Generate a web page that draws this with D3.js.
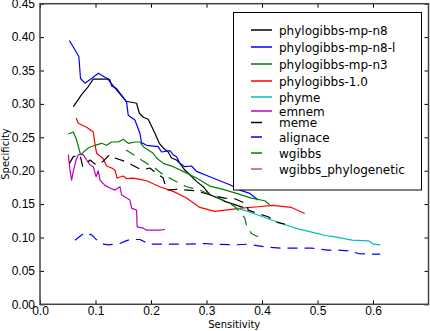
<!DOCTYPE html>
<html>
<head>
<meta charset="utf-8">
<script src="https://cdn.jsdelivr.net/npm/d3@7"></script>
<style>
  body { margin: 0; background: #fff; }
  svg { display: block; font-family: "DejaVu Sans", sans-serif; }
  .tick-label { font-size: 12px; fill: #000; }
  .axis-title { font-size: 10px; fill: #000; }
  .legend-text { font-size: 12px; fill: #000; }
</style>
</head>
<body>
<div class="chart"></div>
<script>
const WIDTH = 430;
const HEIGHT = 331;
const PLOT_LEFT = 40;
const PLOT_RIGHT = 428.5;
const PLOT_TOP = 3.7;
const PLOT_BOTTOM = 304.3;

// series: [sensitivity, specificity]
var mpN8 = [[0.060,0.296],[0.075,0.314],[0.087,0.326],[0.096,0.337],[0.123,0.337],[0.126,0.333],[0.135,0.324],[0.155,0.304],[0.174,0.301],[0.179,0.286],[0.186,0.280],[0.195,0.277],[0.207,0.256],[0.215,0.241],[0.222,0.234],[0.231,0.228],[0.237,0.219],[0.246,0.216],[0.252,0.211],[0.261,0.201],[0.270,0.194],[0.282,0.184],[0.294,0.176],[0.306,0.164],[0.321,0.159],[0.333,0.154],[0.348,0.150],[0.366,0.145]];
var mpN8l = [[0.053,0.395],[0.070,0.371],[0.073,0.338],[0.081,0.331],[0.093,0.338],[0.105,0.346],[0.117,0.340],[0.126,0.336],[0.129,0.327],[0.138,0.323],[0.156,0.303],[0.159,0.283],[0.171,0.276],[0.180,0.256],[0.183,0.242],[0.192,0.238],[0.213,0.236],[0.219,0.228],[0.234,0.230],[0.240,0.224],[0.246,0.221],[0.252,0.211],[0.261,0.206],[0.273,0.207],[0.282,0.199],[0.306,0.191],[0.342,0.179],[0.360,0.171],[0.378,0.166],[0.393,0.156]];
var mpN3 = [[0.051,0.255],[0.060,0.258],[0.066,0.246],[0.073,0.224],[0.087,0.234],[0.099,0.238],[0.111,0.241],[0.120,0.238],[0.129,0.243],[0.141,0.243],[0.150,0.247],[0.159,0.241],[0.171,0.243],[0.180,0.243],[0.186,0.236],[0.204,0.226],[0.210,0.219],[0.222,0.211],[0.240,0.206],[0.258,0.199],[0.282,0.189],[0.306,0.177],[0.330,0.172],[0.354,0.166],[0.381,0.159],[0.405,0.155],[0.414,0.149]];
var phylo10 = [[0.065,0.279],[0.069,0.271],[0.084,0.265],[0.096,0.258],[0.099,0.240],[0.102,0.226],[0.108,0.222],[0.114,0.218],[0.120,0.207],[0.129,0.204],[0.135,0.201],[0.139,0.189],[0.150,0.192],[0.156,0.188],[0.168,0.189],[0.180,0.187],[0.192,0.185],[0.216,0.176],[0.240,0.169],[0.264,0.159],[0.288,0.145],[0.315,0.139],[0.363,0.144],[0.393,0.146],[0.420,0.148],[0.453,0.145],[0.477,0.136]];
var phyme = [[0.354,0.144],[0.375,0.139],[0.405,0.130],[0.435,0.121],[0.465,0.113],[0.495,0.107],[0.514,0.103],[0.532,0.101],[0.562,0.096],[0.592,0.095],[0.601,0.090],[0.613,0.089]];
var emnem = [[0.051,0.224],[0.054,0.201],[0.057,0.186],[0.060,0.199],[0.065,0.216],[0.069,0.224],[0.078,0.224],[0.084,0.216],[0.090,0.209],[0.096,0.206],[0.101,0.191],[0.105,0.200],[0.108,0.186],[0.117,0.178],[0.126,0.174],[0.135,0.171],[0.144,0.176],[0.147,0.164],[0.156,0.159],[0.162,0.156],[0.165,0.144],[0.174,0.141],[0.175,0.116],[0.186,0.114],[0.192,0.111],[0.216,0.111],[0.225,0.112]];
var meme = [[0.053,0.211],[0.060,0.221],[0.072,0.224],[0.077,0.206],[0.090,0.216],[0.099,0.210],[0.105,0.209],[0.115,0.215],[0.123,0.222],[0.129,0.224],[0.135,0.219],[0.156,0.213],[0.165,0.209],[0.183,0.201],[0.198,0.204],[0.210,0.196],[0.222,0.189],[0.228,0.171],[0.246,0.172],[0.280,0.170],[0.315,0.162],[0.333,0.159],[0.351,0.158],[0.373,0.150],[0.375,0.141],[0.396,0.135],[0.411,0.131],[0.426,0.123],[0.441,0.120]];
var alignace = [[0.063,0.096],[0.080,0.107],[0.093,0.104],[0.105,0.094],[0.115,0.090],[0.123,0.089],[0.144,0.091],[0.155,0.095],[0.162,0.097],[0.180,0.097],[0.190,0.093],[0.198,0.090],[0.222,0.090],[0.264,0.090],[0.297,0.091],[0.315,0.090],[0.351,0.089],[0.375,0.090],[0.405,0.086],[0.435,0.084],[0.465,0.084],[0.490,0.084],[0.519,0.081],[0.537,0.081],[0.555,0.080],[0.574,0.076],[0.598,0.075],[0.613,0.075]];
var wgibbs = [[0.155,0.231],[0.174,0.221],[0.192,0.211],[0.204,0.206],[0.222,0.194],[0.240,0.186],[0.264,0.176],[0.288,0.171],[0.310,0.163],[0.336,0.154],[0.351,0.146],[0.360,0.139],[0.369,0.129],[0.372,0.119],[0.381,0.106],[0.393,0.101]];
var wgibbsPhylo = [];

var seriesNames = ['phylogibbs-mp-n8', 'phylogibbs-mp-n8-l', 'phylogibbs-mp-n3', 'phylogibbs-1.0', 'phyme', 'emnem', 'meme', 'alignace', 'wgibbs', 'wgibbs_phylogenetic'];
var seriesData = [mpN8, mpN8l, mpN3, phylo10, phyme, emnem, meme, alignace, wgibbs, wgibbsPhylo];
var seriesColors = ['#000000', '#0000ff', '#008000', '#ff0000', '#00bfbf', '#bf00bf', '#000000', '#0000ff', '#008000', '#e04848'];
var seriesDashed = [false, false, false, false, false, false, true, true, true, true];

var xTicks = [0.0, 0.1, 0.2, 0.3, 0.4, 0.5, 0.6];
var yTicks = [0.00, 0.05, 0.10, 0.15, 0.20, 0.25, 0.30, 0.35, 0.40, 0.45];

// legend row centres (layout, not data)
var LEGEND_ROW_Y = [30, 47, 64, 81, 97, 111, 122.5, 137, 153, 169];

var xScale = d3.scaleLinear().domain([0, 0.7]).range([PLOT_LEFT, PLOT_RIGHT]);
var yScale = d3.scaleLinear().domain([0, 0.45]).range([PLOT_BOTTOM, PLOT_TOP]);

var svg = d3.select('.chart').append('svg')
    .attr('width', WIDTH)
    .attr('height', HEIGHT);

var line = d3.line()
    .x(function (d) { return xScale(d[0]); })
    .y(function (d) { return yScale(d[1]); });

function drawSeries() {
    var g = svg.append('g').attr('class', 'series');
    seriesData.forEach(function (data, i) {
        if (!data.length) return;
        g.append('path')
            .attr('d', line(data))
            .attr('fill', 'none')
            .attr('stroke', seriesColors[i])
            .attr('stroke-width', 1.2)
            .attr('stroke-linejoin', 'round')
            .attr('stroke-dasharray', seriesDashed[i] ? '10,7' : null);
    });
}

function drawAxes() {
    var fmtX = d3.format('.1f');
    var fmtY = d3.format('.2f');
    var tickLen = 4;

    var xb = svg.append('g').attr('transform', 'translate(0,' + PLOT_BOTTOM + ')')
        .call(d3.axisBottom(xScale).tickValues(xTicks).tickFormat(fmtX).tickSizeInner(-tickLen).tickSizeOuter(0).tickPadding(2));
    var xt = svg.append('g').attr('transform', 'translate(0,' + PLOT_TOP + ')')
        .call(d3.axisTop(xScale).tickValues(xTicks).tickFormat('').tickSizeInner(-tickLen).tickSizeOuter(0));
    var yl = svg.append('g').attr('transform', 'translate(' + PLOT_LEFT + ',0)')
        .call(d3.axisLeft(yScale).tickValues(yTicks).tickFormat(fmtY).tickSizeInner(-tickLen).tickSizeOuter(0).tickPadding(5));
    var yr = svg.append('g').attr('transform', 'translate(' + PLOT_RIGHT + ',0)')
        .call(d3.axisRight(yScale).tickValues(yTicks).tickFormat('').tickSizeInner(-tickLen).tickSizeOuter(0));

    [xb, xt, yl, yr].forEach(function (a) {
        a.select('.domain').remove();
        a.selectAll('line').attr('stroke', '#000').attr('stroke-width', 1);
        a.selectAll('text').attr('class', 'tick-label').attr('font-family', null).attr('font-size', null);
    });

    svg.append('rect')
        .attr('x', PLOT_LEFT).attr('y', PLOT_TOP)
        .attr('width', PLOT_RIGHT - PLOT_LEFT).attr('height', PLOT_BOTTOM - PLOT_TOP)
        .attr('fill', 'none').attr('stroke', '#444').attr('stroke-width', 1.5);

    svg.append('text').attr('class', 'axis-title')
        .attr('x', (PLOT_LEFT + PLOT_RIGHT) / 2).attr('y', 327.5)
        .attr('text-anchor', 'middle').text('Sensitivity');
    svg.append('text').attr('class', 'axis-title')
        .attr('transform', 'translate(9,' + (PLOT_TOP + PLOT_BOTTOM) / 2 + ') rotate(-90)')
        .attr('text-anchor', 'middle').text('Specificity');
}

function drawLegend() {
    var g = svg.append('g').attr('class', 'legend');
    g.append('rect')
        .attr('x', 233.5).attr('y', 12.5).attr('width', 188).attr('height', 177.5)
        .attr('fill', '#fff').attr('stroke', '#000').attr('stroke-width', 1);
    seriesNames.forEach(function (name, i) {
        var y = LEGEND_ROW_Y[i];
        g.append('line')
            .attr('x1', 251).attr('x2', seriesDashed[i] ? 262 : 272)
            .attr('y1', y).attr('y2', y)
            .attr('stroke', seriesColors[i]).attr('stroke-width', 1.5);
        g.append('text').attr('class', 'legend-text')
            .attr('x', 279).attr('y', y + 4.5).text(name);
    });
}

drawSeries();
drawAxes();
drawLegend();
</script>
</body>
</html>
